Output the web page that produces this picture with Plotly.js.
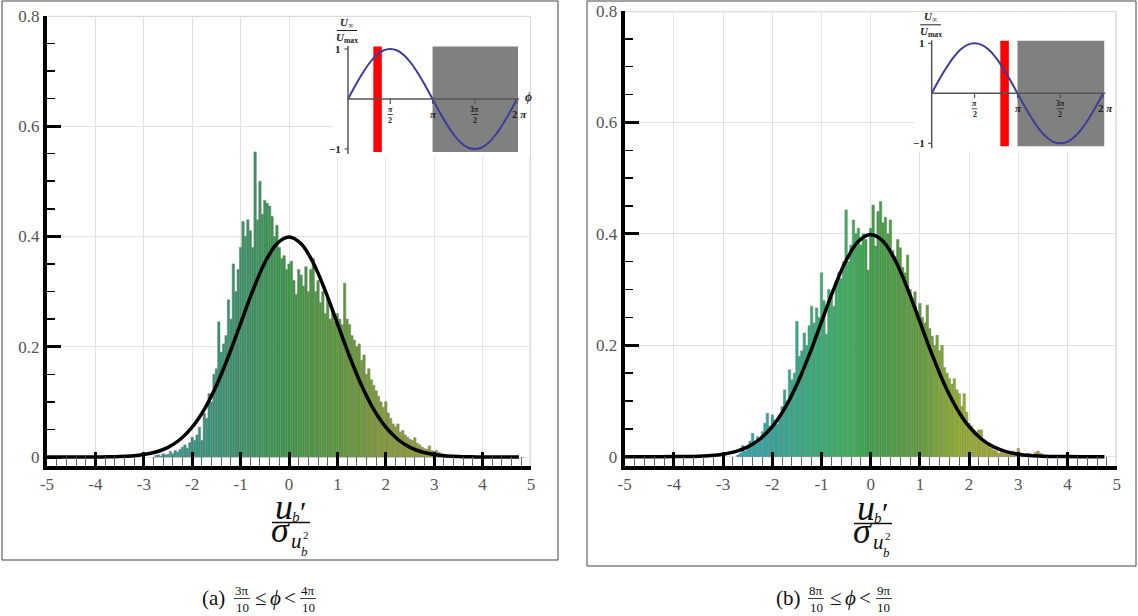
<!DOCTYPE html>
<html><head><meta charset="utf-8">
<script src="https://cdn.plot.ly/plotly-3.0.1.min.js"></script>
<style>html,body{margin:0;padding:0;background:#fff}#chart{width:1138px;height:616px}</style>
</head><body><div id="chart"></div>
<script>
// ---------- data ----------
const binWidth = 0.05;
const xA = [-2.75,-2.7,-2.65,-2.6,-2.55,-2.5,-2.45,-2.4,-2.35,-2.3,-2.25,-2.2,-2.15,-2.1,-2.05,-2,-1.95,-1.9,-1.85,-1.8,-1.75,-1.7,-1.65,-1.6,-1.55,-1.5,-1.45,-1.4,-1.35,-1.3,-1.25,-1.2,-1.15,-1.1,-1.05,-1,-0.95,-0.9,-0.85,-0.8,-0.75,-0.7,-0.65,-0.6,-0.55,-0.5,-0.45,-0.4,-0.35,-0.3,-0.25,-0.2,-0.15,-0.1,-0.05,0,0.05,0.1,0.15,0.2,0.25,0.3,0.35,0.4,0.45,0.5,0.55,0.6,0.65,0.7,0.75,0.8,0.85,0.9,0.95,1,1.05,1.1,1.15,1.2,1.25,1.3,1.35,1.4,1.45,1.5,1.55,1.6,1.65,1.7,1.75,1.8,1.85,1.9,1.95,2,2.05,2.1,2.15,2.2,2.25,2.3,2.35,2.4,2.45,2.5,2.55,2.6,2.65,2.7,2.75,2.8,2.85,2.9,2.95,3,3.05,3.1,3.15,3.2,3.25];
const yA = [0.003,0.004,0.002,0.006,0.004,0.005,0.010,0.006,0.012,0.009,0.014,0.018,0.022,0.016,0.026,0.036,0.030,0.040,0.054,0.030,0.079,0.070,0.115,0.100,0.150,0.160,0.245,0.190,0.205,0.220,0.285,0.250,0.350,0.300,0.340,0.380,0.427,0.400,0.430,0.410,0.380,0.553,0.430,0.500,0.440,0.465,0.460,0.455,0.436,0.400,0.420,0.380,0.360,0.365,0.340,0.350,0.355,0.320,0.295,0.340,0.330,0.310,0.345,0.300,0.340,0.360,0.300,0.320,0.280,0.300,0.260,0.290,0.250,0.270,0.245,0.260,0.250,0.240,0.315,0.250,0.240,0.220,0.212,0.200,0.205,0.175,0.185,0.150,0.160,0.140,0.130,0.120,0.110,0.100,0.090,0.100,0.080,0.070,0.060,0.055,0.060,0.045,0.048,0.040,0.036,0.032,0.030,0.035,0.025,0.022,0.018,0.015,0.014,0.020,0.012,0.010,0.012,0.008,0.006,0.005,0.003];
const xB = [-2.7,-2.65,-2.6,-2.55,-2.5,-2.45,-2.4,-2.35,-2.3,-2.25,-2.2,-2.15,-2.1,-2.05,-2,-1.95,-1.9,-1.85,-1.8,-1.75,-1.7,-1.65,-1.6,-1.55,-1.5,-1.45,-1.4,-1.35,-1.3,-1.25,-1.2,-1.15,-1.1,-1.05,-1,-0.95,-0.9,-0.85,-0.8,-0.75,-0.7,-0.65,-0.6,-0.55,-0.5,-0.45,-0.4,-0.35,-0.3,-0.25,-0.2,-0.15,-0.1,-0.05,0,0.05,0.1,0.15,0.2,0.25,0.3,0.35,0.4,0.45,0.5,0.55,0.6,0.65,0.7,0.75,0.8,0.85,0.9,0.95,1,1.05,1.1,1.15,1.2,1.25,1.3,1.35,1.4,1.45,1.5,1.55,1.6,1.65,1.7,1.75,1.8,1.85,1.9,1.95,2,2.05,2.1,2.15,2.2,2.25,2.3,2.35,2.4,2.45,2.5,2.55,2.6,2.65,2.7,2.75,2.8,2.85,2.9,2.95,3,3.05,3.1,3.15,3.2,3.25,3.3,3.35,3.4,3.45,3.5,3.55,3.6];
const yB = [0.003,0.006,0.020,0.010,0.018,0.028,0.042,0.025,0.036,0.030,0.045,0.060,0.078,0.055,0.075,0.066,0.058,0.072,0.090,0.120,0.100,0.156,0.138,0.150,0.243,0.180,0.190,0.222,0.200,0.235,0.270,0.240,0.267,0.250,0.330,0.280,0.220,0.300,0.290,0.270,0.310,0.330,0.320,0.350,0.443,0.350,0.380,0.425,0.400,0.410,0.380,0.400,0.390,0.335,0.410,0.452,0.378,0.440,0.458,0.420,0.430,0.400,0.425,0.370,0.360,0.390,0.375,0.340,0.330,0.362,0.300,0.281,0.296,0.260,0.275,0.250,0.240,0.272,0.230,0.216,0.200,0.218,0.190,0.200,0.160,0.150,0.140,0.130,0.140,0.120,0.113,0.090,0.113,0.080,0.060,0.055,0.048,0.045,0.048,0.048,0.030,0.024,0.020,0.015,0.012,0.010,0.006,0.008,0.006,0.005,0.008,0.006,0.010,0.008,0.015,0.006,0.004,0.003,0.006,0.003,0.004,0.008,0.010,0.006,0.004,0.002,0.003];
const gaussX = [-5,-4.75,-4.5,-4.25,-4,-3.75,-3.5,-3.25,-3,-2.75,-2.5,-2.25,-2,-1.75,-1.5,-1.25,-1,-0.75,-0.5,-0.25,0,0.25,0.5,0.75,1,1.25,1.5,1.75,2,2.25,2.5,2.75,3,3.25,3.5,3.75,4,4.25,4.5,4.75];
const gaussY = [0.0000015,0.0000051,0.000016,0.000047,0.000134,0.000353,0.000873,0.00203,0.00443,0.00909,0.01753,0.03174,0.05399,0.08628,0.12952,0.18265,0.24197,0.30114,0.35207,0.38667,0.39894,0.38667,0.35207,0.30114,0.24197,0.18265,0.12952,0.08628,0.05399,0.03174,0.01753,0.00909,0.00443,0.00203,0.000873,0.000353,0.000134,0.000047,0.000016,0.0000051];
const sinePhi = [0,0.262,0.524,0.785,1.047,1.309,1.571,1.833,2.094,2.356,2.618,2.880,3.142,3.403,3.665,3.927,4.189,4.451,4.712,4.974,5.236,5.498,5.760,6.021,6.283];
const sineVal = [0,0.26,0.5,0.71,0.87,0.97,1,0.97,0.87,0.71,0.5,0.26,0,-0.26,-0.5,-0.71,-0.87,-0.97,-1,-0.97,-0.87,-0.71,-0.5,-0.26,0];
const bandA = [0.942, 1.257];   // 3π/10 .. 4π/10
const bandB = [2.513, 2.827];   // 8π/10 .. 9π/10
const shadeRange = [3.142, 6.32];
const xTickVals = [-5,-4,-3,-2,-1,0,1,2,3,4,5];
const xTickText = ['-5','-4','-3','-2','-1','0','1','2','3','4','5'];
const yTickVals = [0,0.2,0.4,0.6,0.8];
const yTickText = ['0','0.2','0.4','0.6','0.8'];
const captionA = ['(a)','3π','10','4π','10'];
const captionB = ['(b)','8π','10','9π','10'];

// ---------- helpers ----------
const W = 1138, H = 616;
const px = x => x / W, py = y => 1 - y / H;
const SERIF = 'Liberation Serif';

const csA = [[0,'rgb(40,155,150)'],[0.131,'rgb(40,152,135)'],[0.295,'rgb(45,150,100)'],[0.459,'rgb(45,155,58)'],[0.623,'rgb(85,155,45)'],[0.787,'rgb(130,158,42)'],[1,'rgb(165,165,40)']];
const csB = [[0,'rgb(30,175,190)'],[0.123,'rgb(35,170,160)'],[0.277,'rgb(40,180,110)'],[0.354,'rgb(45,185,85)'],[0.431,'rgb(45,165,60)'],[0.585,'rgb(90,160,45)'],[0.708,'rgb(150,185,30)'],[0.831,'rgb(170,170,40)'],[1,'rgb(205,145,60)']];

function barTrace(x, y, cs, cmin, cmax, xa, ya) {
  return {type:'bar', x:x, y:y, width:binWidth, xaxis:xa, yaxis:ya,
    marker:{color:x, colorscale:cs, cmin:cmin, cmax:cmax, line:{color:'rgba(128,128,128,0.9)', width:0.6}},
    hoverinfo:'skip'};
}
function gaussTrace(xa, ya) {
  return {type:'scatter', mode:'lines', x:gaussX, y:gaussY, xaxis:xa, yaxis:ya,
    line:{color:'#000', width:3.5, shape:'spline', smoothing:1}, hoverinfo:'skip'};
}
function sineTrace(xa, ya) {
  return {type:'scatter', mode:'lines', x:sinePhi, y:sineVal, xaxis:xa, yaxis:ya,
    line:{color:'#3c3c9a', width:2, shape:'spline'}, hoverinfo:'skip'};
}

const traces = [
  barTrace(xA, yA, csA, -2.8, 3.3, 'x', 'y'),
  gaussTrace('x', 'y'),
  barTrace(xB, yB, csB, -2.8, 3.7, 'x2', 'y2'),
  gaussTrace('x2', 'y2'),
  sineTrace('x3', 'y3'),
  sineTrace('x4', 'y4')
];

function mainX(domain, anchor) {
  return {domain:domain, anchor:anchor, range:[-5,5], tickmode:'array', tickvals:xTickVals, ticktext:xTickText,
    showline:true, linewidth:4, linecolor:'#000', ticks:'inside', ticklen:14, tickwidth:3, tickcolor:'#000',
    minor:{tickmode:'linear', tick0:-5, dtick:0.2, ticks:'inside', ticklen:9, tickwidth:1, tickcolor:'#666', showgrid:false},
    showgrid:true, gridcolor:'#e2e2e2', gridwidth:1, zeroline:false, fixedrange:true,
    tickfont:{family:SERIF, size:17, color:'#555'}};
}
function mainY(domain, anchor, ymin) {
  return {domain:domain, anchor:anchor, range:[ymin,0.8], tickmode:'array', tickvals:yTickVals, ticktext:yTickText,
    showline:true, linewidth:4, linecolor:'#000', ticks:'inside', ticklen:14, tickwidth:3, tickcolor:'#000',
    minor:{tickmode:'linear', tick0:0, dtick:0.05, ticks:'inside', ticklen:8, tickwidth:1.5, tickcolor:'#000', showgrid:false},
    showgrid:true, gridcolor:'#e2e2e2', gridwidth:1, zeroline:false, fixedrange:true,
    tickfont:{family:SERIF, size:17, color:'#555'}};
}
function insetAxis(domain, anchor, range) {
  return {domain:domain, anchor:anchor, range:range, showgrid:false, zeroline:false, showline:false,
    showticklabels:false, ticks:'', fixedrange:true};
}

const layout = {
  width:W, height:H, margin:{l:0,r:0,t:0,b:0}, showlegend:false, hovermode:false,
  font:{family:SERIF},
  paper_bgcolor:'#ffffff', plot_bgcolor:'#ffffff', bargap:0,
  xaxis: mainX([px(47), px(531)], 'y'),
  yaxis: mainY([py(466), py(15.7)], 'x', -0.0163),
  xaxis2: mainX([px(624.7), px(1116.7)], 'y2'),
  yaxis2: mainY([py(466), py(11)], 'x2', -0.0167),
  xaxis3: insetAxis([px(333), px(530)], 'y3', [-0.558, 6.766]),
  yaxis3: insetAxis([py(157), py(17)], 'x3', [-1.16, 1.64]),
  xaxis4: insetAxis([px(914), px(1114)], 'y4', [-0.648, 6.678]),
  yaxis4: insetAxis([py(151), py(12)], 'x4', [-1.154, 1.626]),
  shapes: [], annotations: []
};

const S = layout.shapes, A = layout.annotations;

// panel frames
S.push({type:'rect', xref:'paper', yref:'paper', x0:px(2), x1:px(558), y0:py(560), y1:py(1), line:{color:'#444', width:1}, fillcolor:'rgba(0,0,0,0)'});
S.push({type:'rect', xref:'paper', yref:'paper', x0:px(587), x1:px(1136), y0:py(566), y1:py(1), line:{color:'#444', width:1}, fillcolor:'rgba(0,0,0,0)'});

// light top/right boundary lines of the main plots
[['x','y'],['x2','y2']].forEach(([xa,ya]) => {
  S.push({type:'line', xref:xa, yref:ya, x0:-5, x1:5, y0:0.8, y1:0.8, layer:'below', line:{color:'#dadada', width:2.5}});
  S.push({type:'line', xref:xa, yref:ya, x0:5, x1:5, y0:-0.02, y1:0.8, layer:'below', line:{color:'#dadada', width:3}});
});

// insets
function inset(xa, ya, band) {
  S.push({type:'rect', xref:xa, yref:ya, x0:shadeRange[0], x1:shadeRange[1], y0:-1.06, y1:1.05, layer:'below', line:{width:0}, fillcolor:'#808080'});
  S.push({type:'rect', xref:xa, yref:ya, x0:band[0], x1:band[1], y0:-1.06, y1:1.05, layer:'below', line:{width:0}, fillcolor:'#ff0000'});
  S.push({type:'line', xref:xa, yref:ya, x0:0, x1:6.36, y0:0, y1:0, line:{color:'#555', width:1.5}});
  S.push({type:'line', xref:xa, yref:ya, x0:0, x1:0, y0:-1.1, y1:1.06, line:{color:'#555', width:1.5}});
  [1.571, 3.142, 4.712, 6.283].forEach(v => S.push({type:'line', xref:xa, yref:ya, x0:v, x1:v, y0:0, y1:-0.1, line:{color:'#555', width:1.2}}));
  [1, -1].forEach(v => S.push({type:'line', xref:xa, yref:ya, x0:-0.13, x1:0, y0:v, y1:v, line:{color:'#555', width:1.2}}));
  // fraction bars
  S.push({type:'line', xref:xa, yref:ya, x0:-0.42, x1:0.34, y0:1.37, y1:1.37, line:{color:'#222', width:1}});
  S.push({type:'line', xref:xa, yref:ya, x0:1.47, x1:1.67, y0:-0.31, y1:-0.31, line:{color:'#222', width:0.8}});
  S.push({type:'line', xref:xa, yref:ya, x0:4.58, x1:4.84, y0:-0.31, y1:-0.31, line:{color:'#222', width:0.8}});
  const f = (x, y, t, size, anchor) => A.push({xref:xa, yref:ya, x:x, y:y, text:t, showarrow:false,
      xanchor:anchor||'center', yanchor:'middle', font:{family:SERIF, size:size, color:'#222'}});
  f(-0.17, 1, '<b>1</b>', 11, 'right');
  f(-0.17, -1, '<b>−1</b>', 11, 'right');
  f(-0.04, 1.53, '<b><i>U</i></b><sub><b>∞</b></sub>', 11);
  f(-0.04, 1.22, '<b><i>U</i></b><sub><b>max</b></sub>', 11);
  f(1.571, -0.2, '<b><i>π</i></b>', 8);
  f(1.571, -0.43, '<b>2</b>', 8);
  f(3.19, -0.29, '<b><i>π</i></b>', 11);
  f(4.712, -0.2, '<b>3<i>π</i></b>', 8);
  f(4.712, -0.43, '<b>2</b>', 8);
  f(6.37, -0.29, '<b>2 <i>π</i></b>', 11);
  f(6.7, 0.05, '<b><i>ϕ</i></b>', 12);
}
inset('x3', 'y3', bandA);
inset('x4', 'y4', bandB);

// axis title fraction  u'_b / σ_{u_b^2}
function fracTitle(cx, dy) {
  const a = (x, y, t, size) => A.push({xref:'paper', yref:'paper', x:px(cx + x), y:py(y + dy), text:t, showarrow:false,
      xanchor:'center', yanchor:'middle', font:{family:SERIF, size:size, color:'#111'}});
  a(-7, 507, '<i>u</i>', 36);
  a(12, 511, '′', 30);
  a(5, 517, '<i>b</i>', 15);
  a(-11, 530, '<i>σ</i>', 36);
  a(5, 541, '<i>u</i>', 21);
  a(15, 535, '2', 11);
  a(13, 551, '<i>b</i>', 13);
  S.push({type:'line', xref:'paper', yref:'paper', x0:px(cx - 19), x1:px(cx + 19), y0:py(522.5 + dy), y1:py(522.5 + dy), line:{color:'#111', width:1.5}});
}
fracTitle(291, 0);
fracTitle(873, 1);

// captions
function caption(c, xs, y) {
  const a = (x, yy, t, size) => A.push({xref:'paper', yref:'paper', x:px(x), y:py(yy), text:t, showarrow:false,
      xanchor:'center', yanchor:'middle', font:{family:SERIF, size:size, color:'#111'}});
  a(xs[0], y, c[0], 21);
  a(xs[1], y - 8, c[1], 13);
  a(xs[1], y + 9, c[2], 13);
  a(xs[2], y, '≤', 21);
  a(xs[3], y, '<i>ϕ</i>', 21);
  a(xs[4], y, '<', 21);
  a(xs[5], y - 8, c[3], 13);
  a(xs[5], y + 9, c[4], 13);
  S.push({type:'line', xref:'paper', yref:'paper', x0:px(xs[1]-8), x1:px(xs[1]+8), y0:py(y+0.5), y1:py(y+0.5), line:{color:'#111', width:0.8}});
  S.push({type:'line', xref:'paper', yref:'paper', x0:px(xs[5]-8), x1:px(xs[5]+8), y0:py(y+0.5), y1:py(y+0.5), line:{color:'#111', width:0.8}});
}
caption(captionA, [213, 242, 261, 275, 290, 308], 598);
caption(captionB, [788, 816, 836, 850, 865, 884], 598);

Plotly.newPlot('chart', traces, layout, {staticPlot:true, displayModeBar:false});
</script>
</body></html>
